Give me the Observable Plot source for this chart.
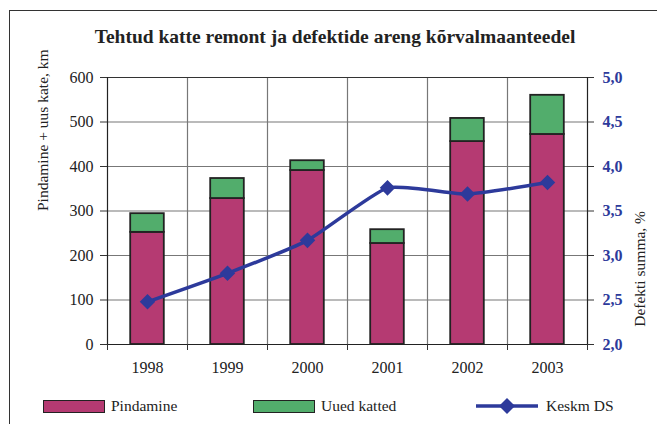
<!DOCTYPE html>
<html>
<head>
<meta charset="utf-8">
<script src="https://cdn.jsdelivr.net/npm/d3@7"></script>
<script src="https://cdn.jsdelivr.net/npm/@observablehq/plot@0.6"></script>
<style>
  html, body { margin: 0; padding: 0; background: #fff; }
  #wrap { position: relative; width: 657px; height: 424px; overflow: hidden; font-family: "Liberation Serif", "Times New Roman", serif; }
  #border { position: absolute; left: 9px; top: 10px; width: 660px; height: 430px; border-left: 1.5px solid #333; border-top: 1.5px solid #333; }
  #title { position: absolute; left: 0; top: 26px; width: 670px; text-align: center; font-weight: bold; font-size: 19.5px; color: #222; }
  #chart { position: absolute; left: 0; top: 0; }
  #chart svg, #chart svg text { font-family: "Liberation Serif", "Times New Roman", serif; }
  .leg { position: absolute; top: 397px; display: flex; align-items: center; font-size: 15.5px; color: #222; }
  .sw { width: 60px; height: 11px; border: 1.5px solid #222; margin-right: 6px; }
</style>
</head>
<body>
<div id="wrap">
  <div id="border"></div>
  <div id="chart"></div>
  <div id="title">Tehtud katte remont ja defektide areng kõrvalmaanteedel</div>
  <div id="legend"></div>
</div>
<script>
const years = ["1998", "1999", "2000", "2001", "2002", "2003"];
const pindamine = [252, 328, 391, 227, 456, 472];
const uuedKatted = [42, 45, 22, 31, 52, 88];
const keskmDS = [2.48, 2.80, 3.17, 3.76, 3.69, 3.82];
const leftTicks = [0, 100, 200, 300, 400, 500, 600];
const seriesNames = ["Pindamine", "Uued katted", "Keskm DS"];
const colors = ["#b53a72", "#52ad6c", "#2d3a9b"];

const rows = years.map((y, i) => ({ i, year: y, pind: pindamine[i], uued: uuedKatted[i], ds: keskmDS[i] }));
const dsToLeft = v => (v - 2) * 200;
const leftToDs = v => v / 200 + 2;

const plot = Plot.plot({
  width: 657,
  height: 380,
  marginLeft: 107,
  marginRight: 70,
  marginTop: 77,
  marginBottom: 36,
  style: { fontFamily: "Liberation Serif, Times New Roman, serif", fontSize: "16px", color: "#222", background: "transparent" },
  x: { type: "linear", domain: [0, 6] },
  y: { domain: [0, 600] },
  marks: [
    Plot.gridY(leftTicks, { stroke: "#777", strokeOpacity: 1, strokeWidth: 1.2 }),
    Plot.gridX([1, 2, 3, 4, 5], { stroke: "#777", strokeOpacity: 1, strokeWidth: 1.2 }),
    Plot.ruleY([600], { stroke: "#333", strokeWidth: 1.2 }),
    Plot.rectY(rows, { x1: d => d.i + 0.29, x2: d => d.i + 0.71, y1: 0, y2: d => d.pind, fill: colors[0], stroke: "#222", strokeWidth: 1.8 }),
    Plot.rectY(rows, { x1: d => d.i + 0.29, x2: d => d.i + 0.71, y1: d => d.pind, y2: d => d.pind + d.uued, fill: colors[1], stroke: "#222", strokeWidth: 1.8 }),
    Plot.ruleX([0, 6], { stroke: "#222", strokeWidth: 1.2 }),
    Plot.ruleY([0], { stroke: "#222", strokeWidth: 1.2 }),
    Plot.line(rows, { x: d => d.i + 0.5, y: d => dsToLeft(d.ds), stroke: colors[2], strokeWidth: 3.5, curve: "cardinal", tension: 0.5 }),
    Plot.dot(rows, { x: d => d.i + 0.5, y: d => dsToLeft(d.ds), symbol: "diamond2", r: 7, fill: colors[2], stroke: "none" }),
    Plot.axisY(leftTicks, { anchor: "left", tickSize: 7, tickPadding: 7, label: null, fill: "#222", stroke: "#333" }),
    Plot.axisY(leftTicks, { anchor: "right", tickSize: 6, tickPadding: 9, label: null, tickFormat: v => leftToDs(v).toFixed(1).replace(".", ","), fill: colors[2], fontWeight: "bold", stroke: "#333" }),
    Plot.axisX([0, 1, 2, 3, 4, 5, 6], { anchor: "bottom", tickSize: 6, tickFormat: () => "", label: null, stroke: "#333" }),
    Plot.axisX([0.5, 1.5, 2.5, 3.5, 4.5, 5.5], { anchor: "bottom", tickSize: 0, tickPadding: 17, tickFormat: v => years[Math.floor(v)], label: null, fill: "#222" }),
    Plot.text(["Pindamine + uus kate, km"], { frameAnchor: "left", dx: -64, rotate: -90, fontSize: 15.5, fill: "#222" }),
    Plot.text(["Defekti summa, %"], { frameAnchor: "right", dx: 53, rotate: -90, fontSize: 15.5, fill: "#222" })
  ]
});
document.getElementById("chart").appendChild(plot);

// Legend
const legend = document.getElementById("legend");
const legPos = [43, 253, 476];
seriesNames.forEach((name, k) => {
  const item = document.createElement("div");
  item.className = "leg";
  item.style.left = legPos[k] + "px";
  if (k < 2) {
    const sw = document.createElement("div");
    sw.className = "sw";
    sw.style.background = colors[k];
    item.appendChild(sw);
  } else {
    const ns = "http://www.w3.org/2000/svg";
    const svg = document.createElementNS(ns, "svg");
    svg.setAttribute("width", "62");
    svg.setAttribute("height", "18");
    svg.style.marginRight = "8px";
    const ln = document.createElementNS(ns, "line");
    ln.setAttribute("x1", "0"); ln.setAttribute("x2", "62");
    ln.setAttribute("y1", "9"); ln.setAttribute("y2", "9");
    ln.setAttribute("stroke", colors[2]); ln.setAttribute("stroke-width", "3.5");
    svg.appendChild(ln);
    const dm = document.createElementNS(ns, "path");
    dm.setAttribute("d", "M31,1 L39,9 L31,17 L23,9 Z");
    dm.setAttribute("fill", colors[2]);
    svg.appendChild(dm);
    item.appendChild(svg);
  }
  const t = document.createElement("span");
  t.textContent = name;
  item.appendChild(t);
  legend.appendChild(item);
});
</script>
</body>
</html>
